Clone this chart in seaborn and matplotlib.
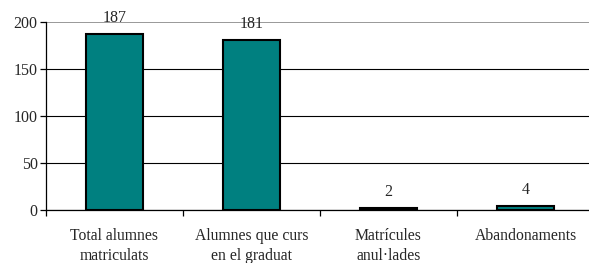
import numpy as np
import pandas as pd
import matplotlib
matplotlib.use("Agg")
import matplotlib.pyplot as plt
import seaborn as sns

# ---- data ----
categories = ["Total alumnes\nmatriculats", "Alumnes que curs\nen el graduat",
              "Matrícules\nanul·lades", "Abandonaments"]
values = [187, 181, 2, 4]

sns.set_style("white")
plt.rcParams['font.family'] = ['Liberation Serif', 'DejaVu Serif']

df = pd.DataFrame({"cat": categories, "val": values})

fig = plt.figure(figsize=(5.89, 2.63), dpi=100)
ax = fig.add_axes([46 / 589, 53 / 263, 548 / 589, 188 / 263])

sns.barplot(data=df, x="cat", y="val", color="#008080", width=0.41,
            edgecolor="black", linewidth=1.5, saturation=1, ax=ax, zorder=3)

ax.set_ylim(0, 200)
ax.set_xlim(-0.5, 3.5)
ax.set_yticks([0, 50, 100, 150, 200])
ax.yaxis.grid(True, color="black", linewidth=0.8, zorder=0)
ax.get_ygridlines()[-1].set_color("#888888")
ax.get_ygridlines()[-1].set_linewidth(1.2)
ax.set_axisbelow(True)
for s in ["top", "right"]:
    ax.spines[s].set_visible(False)
for s in ["left", "bottom"]:
    ax.spines[s].set_color("black")
    ax.spines[s].set_linewidth(0.9)

ax.set_xlabel("")
ax.set_ylabel("")
ax.tick_params(axis="y", direction="out", length=4, width=0.9, color="black",
               labelsize=11.5, pad=2, left=True)
ax.tick_params(axis="x", which="major", length=0, labelsize=11.3, pad=13)
ax.set_xticks(np.arange(-0.5, 4, 1), minor=True)
ax.tick_params(axis="x", which="minor", direction="out", length=4, width=0.9,
               color="black", bottom=True)
for lbl in ax.get_xticklabels():
    lbl.set_linespacing(1.3)

ax.bar_label(ax.containers[0], padding=6, fontsize=11.5)

fig.savefig("out.png", dpi=100)
